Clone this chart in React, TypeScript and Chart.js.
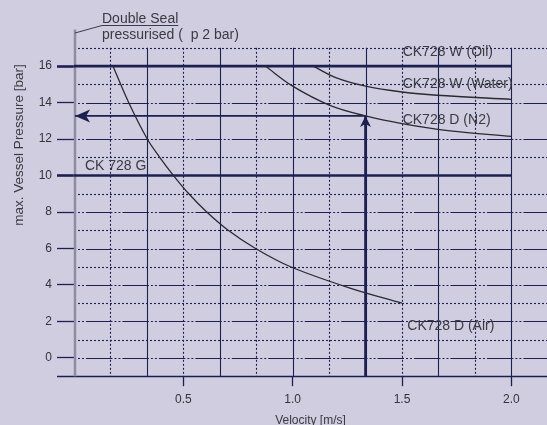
import React, { useEffect, useRef } from 'react';
import { Chart, registerables } from 'chart.js';

Chart.register(...registerables);

// ---------------- data ----------------
const xTickValues = [0.5, 1.0, 1.5, 2.0];
const yTickValues = [0, 2, 4, 6, 8, 10, 12, 14, 16];

const airVelocity = [0.178, 0.25, 0.335, 0.392, 0.455, 0.525, 0.607, 0.705, 0.83, 0.99, 1.262, 1.5];
const airPressure = [16, 14, 12, 11, 10, 9, 8, 7, 6, 5, 3.83, 3.0];

const n2Velocity = [0.875, 1.0, 1.17, 1.333, 1.5, 1.72, 2.0];
const n2Pressure = [16, 14.9, 13.85, 13.27, 12.85, 12.45, 12.15];

const waterVelocity = [1.094, 1.2, 1.333, 1.5, 1.66, 2.0];
const waterPressure = [16, 15.35, 14.9, 14.58, 14.4, 14.18];

const oilVelocity = [0, 2.0];
const oilPressure = [16, 16];

const gVelocity = [0, 2.0];
const gPressure = [10, 10];

const operatingVelocity = 1.333;
const operatingPressure = 13.27;
const arrowLeftVelocity = 0.005;

const xMax = 2.163;
const yMin = -1;
const yMax = 18;
const gridTop = 17;
const xGridStep = 1 / 6;
const boldLevels = [10, 16];
const skippedLevels = [13];

// ---------------- style ----------------
const NAVY = '#1b2050';
const CURVE = '#2a2a30';
const TEXT = '#3a3a40';
const BG = '#d1cde1';
const FONT = '"Liberation Sans", Arial, Helvetica, sans-serif';

const pts = (xs: number[], ys: number[]) => xs.map((v, i) => ({ x: v, y: ys[i] }));

const paperPlugin = {
  id: 'paper',
  beforeDraw(chart: any) {
    const { ctx, width, height } = chart;
    ctx.save();
    ctx.fillStyle = BG;
    ctx.fillRect(0, 0, width, height);
    ctx.restore();
  },
  beforeDatasetsDraw(chart: any) {
    const { ctx, chartArea: a, scales } = chart;
    const x = scales.x;
    const y = scales.y;
    const cell = x.getPixelForValue(xGridStep) - x.getPixelForValue(0);
    const top = y.getPixelForValue(gridTop);
    const bottom = y.getPixelForValue(yMin);
    ctx.save();
    ctx.strokeStyle = NAVY;
    ctx.lineWidth = 1.1;
    // vertical grid
    for (let k = 1; k * xGridStep < xMax - 0.05; k++) {
      const px = Math.round(x.getPixelForValue(k * xGridStep)) + 0.5;
      ctx.setLineDash(k % 2 === 0 ? [] : [2, 2]);
      ctx.beginPath();
      ctx.moveTo(px, top);
      ctx.lineTo(px, bottom);
      ctx.stroke();
    }
    // horizontal grid
    for (let p = yMin + 1; p <= gridTop; p++) {
      if (boldLevels.includes(p) || skippedLevels.includes(p)) continue;
      const py = Math.round(y.getPixelForValue(p)) + 0.5;
      ctx.setLineDash(p % 2 === 0 ? [2, 2, 2, 2, 2, 2, cell - 12, 0] : [2, 2]);
      ctx.lineDashOffset = 0;
      ctx.beginPath();
      ctx.moveTo(a.left, py);
      ctx.lineTo(a.right, py);
      ctx.stroke();
    }
    ctx.setLineDash([]);
    // bottom axis line
    ctx.lineWidth = 1.5;
    const by = Math.round(bottom) + 0.5;
    ctx.beginPath();
    ctx.moveTo(a.left - 17, by);
    ctx.lineTo(a.right, by);
    ctx.stroke();
    // grey vertical axis
    ctx.strokeStyle = '#8f8ca2';
    ctx.lineWidth = 2.5;
    ctx.beginPath();
    ctx.moveTo(a.left + 1, a.top);
    ctx.lineTo(a.left + 1, bottom);
    ctx.stroke();
    ctx.restore();
  },
  afterDatasetsDraw(chart: any) {
    const { ctx, chartArea: a, scales } = chart;
    const x = scales.x;
    const y = scales.y;
    ctx.save();
    // arrowheads
    const up = chart.getDatasetMeta(5).data[1];
    const left = chart.getDatasetMeta(6).data[1];
    ctx.fillStyle = NAVY;
    if (up) {
      ctx.beginPath();
      ctx.moveTo(up.x, up.y);
      ctx.lineTo(up.x + 5.5, up.y + 11);
      ctx.lineTo(up.x, up.y + 8);
      ctx.lineTo(up.x - 5.5, up.y + 11);
      ctx.closePath();
      ctx.fill();
    }
    if (left) {
      ctx.beginPath();
      ctx.moveTo(left.x, left.y);
      ctx.lineTo(left.x + 15, left.y - 6.5);
      ctx.lineTo(left.x + 11, left.y);
      ctx.lineTo(left.x + 15, left.y + 6.5);
      ctx.closePath();
      ctx.fill();
    }
    // labels
    ctx.fillStyle = TEXT;
    ctx.textAlign = 'left';
    ctx.textBaseline = 'alphabetic';
    ctx.font = `14px ${FONT}`;
    ctx.fillText('CK728 W (Oil)', x.getPixelForValue(1.503), y.getPixelForValue(16.55));
    ctx.fillText('CK728 W (Water)', x.getPixelForValue(1.503), y.getPixelForValue(14.8));
    ctx.fillText('CK728 D (N2)', x.getPixelForValue(1.503), y.getPixelForValue(12.85));
    ctx.fillText('CK728 D (Air)', x.getPixelForValue(1.524), y.getPixelForValue(1.53));
    ctx.fillText('CK 728 G', x.getPixelForValue(0.05), y.getPixelForValue(10.33));

    // Double seal note
    const tx = 102;
    ctx.fillText('Double Seal', tx, 23);
    ctx.fillText('pressurised (  p 2 bar)', tx, 38.5);
    const w = ctx.measureText('Double Seal').width;
    ctx.strokeStyle = '#3a3a50';
    ctx.lineWidth = 1;
    ctx.beginPath();
    ctx.moveTo(a.left + 1, 33);
    ctx.lineTo(tx, 25.5);
    ctx.lineTo(tx + w, 25.5);
    ctx.stroke();

    // axis titles
    ctx.fillStyle = '#3a3a40';
    ctx.font = `12px ${FONT}`;
    ctx.textAlign = 'center';
    ctx.fillText('Velocity [m/s]', (a.left + a.right) / 2, 424);
    ctx.save();
    ctx.translate(19, 145);
    ctx.rotate(-Math.PI / 2);
    ctx.font = `13.5px ${FONT}`;
    ctx.textBaseline = 'middle';
    ctx.fillText('max. Vessel Pressure [bar]', 0, 0);
    ctx.restore();
    ctx.restore();
  },
};

export default function App() {
  const ref = useRef<HTMLCanvasElement | null>(null);

  useEffect(() => {
    document.body.style.margin = '0';
    document.body.style.background = BG;
    const canvas = ref.current;
    if (!canvas) return;
    const curve = (label: string, xs: number[], ys: number[]) => ({
      label,
      data: pts(xs, ys),
      borderColor: CURVE,
      borderWidth: 1.3,
      pointRadius: 0,
      tension: 0.35,
    });
    const thick = (label: string, xs: number[], ys: number[]) => ({
      label,
      data: pts(xs, ys),
      borderColor: NAVY,
      borderWidth: 2.6,
      pointRadius: 0,
    });
    const chart = new Chart(canvas, {
      type: 'line',
      data: {
        datasets: [
          curve('CK728 D (Air)', airVelocity, airPressure),
          curve('CK728 D (N2)', n2Velocity, n2Pressure),
          curve('CK728 W (Water)', waterVelocity, waterPressure),
          thick('CK728 W (Oil)', oilVelocity, oilPressure),
          thick('CK 728 G', gVelocity, gPressure),
          {
            label: 'up arrow',
            data: [
              { x: operatingVelocity, y: yMin },
              { x: operatingVelocity, y: operatingPressure },
            ],
            borderColor: NAVY,
            borderWidth: 2.6,
            pointRadius: 0,
          },
          {
            label: 'left arrow',
            data: [
              { x: operatingVelocity, y: operatingPressure },
              { x: arrowLeftVelocity, y: operatingPressure },
            ],
            borderColor: NAVY,
            borderWidth: 1.6,
            pointRadius: 0,
          },
        ] as any,
      },
      options: {
        animation: false,
        responsive: false,
        devicePixelRatio: 1,
        events: [],
        layout: { padding: { top: 29.6, left: 0, right: 0, bottom: 0 } },
        plugins: { legend: { display: false }, tooltip: { enabled: false } },
        scales: {
          x: {
            type: 'linear',
            min: 0,
            max: xMax,
            afterBuildTicks: (s: any) => {
              s.ticks = xTickValues.map((v) => ({ value: v }));
            },
            afterFit: (s: any) => {
              s.height = 48.8;
            },
            ticks: {
              autoSkip: false,
              maxRotation: 0,
              padding: 6,
              color: '#333338',
              font: { family: FONT, size: 12 },
              callback: (v: any) => Number(v).toFixed(1),
            },
            grid: {
              drawOnChartArea: false,
              drawTicks: true,
              tickLength: 10,
              tickColor: NAVY,
              tickWidth: 1.3,
            },
            border: { display: false },
          },
          y: {
            type: 'linear',
            min: yMin,
            max: yMax,
            afterBuildTicks: (s: any) => {
              s.ticks = yTickValues.map((v) => ({ value: v }));
            },
            afterFit: (s: any) => {
              s.width = 74;
            },
            ticks: {
              autoSkip: false,
              padding: 5,
              color: '#333338',
              font: { family: FONT, size: 12 },
            },
            grid: {
              drawOnChartArea: false,
              drawTicks: true,
              tickLength: 17,
              tickColor: NAVY,
              tickWidth: (c: any) => (boldLevels.includes(c.tick?.value) ? 2.6 : 1.3),
            },
            border: { display: false },
          },
        },
      } as any,
      plugins: [paperPlugin],
    });
    return () => chart.destroy();
  }, []);

  return (
    <div style={{ position: 'fixed', left: 0, top: 0, width: 547, height: 425, background: BG }}>
      <canvas ref={ref} width={547} height={425} style={{ display: 'block' }} />
    </div>
  );
}
